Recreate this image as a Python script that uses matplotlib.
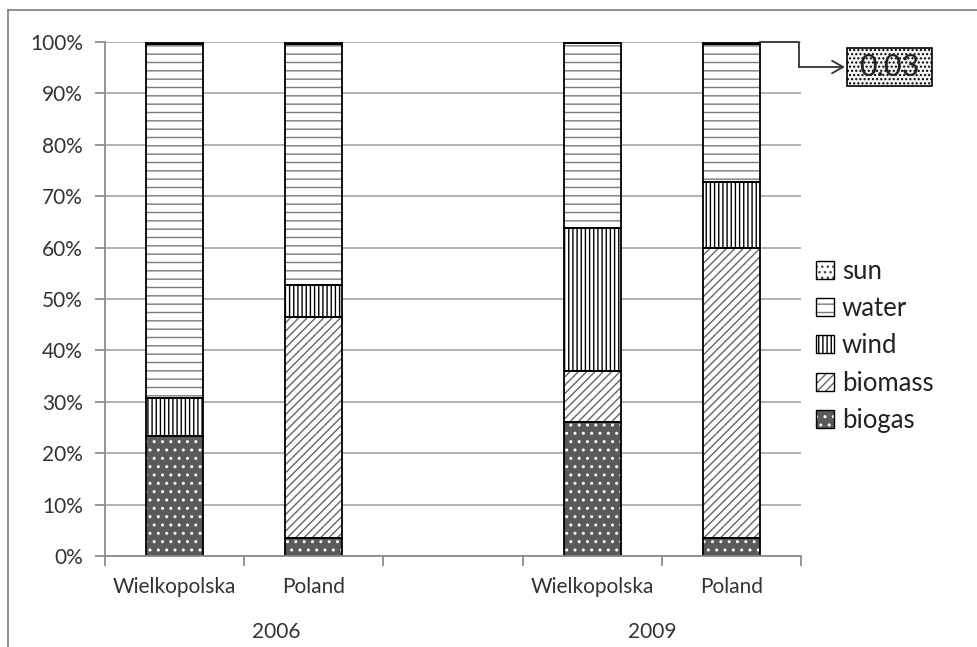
import numpy as np
import matplotlib
matplotlib.use("Agg")
import matplotlib.pyplot as plt
from matplotlib.patches import Patch, Rectangle
from matplotlib.lines import Line2D
from matplotlib.ticker import FuncFormatter, FixedLocator

plt.rcParams['font.family'] = ['Lato', 'DejaVu Sans']
plt.rcParams['hatch.linewidth'] = 1.0

# categories (slot 2 is the empty gap between the years)
categories = ["Wielkopolska", "Poland", "", "Wielkopolska", "Poland"]
years = ["2006", "2009"]

# shares in % (bottom to top)
biogas = [23.3, 3.5, 0, 26.1, 3.5]
biomass = [0.0, 43.0, 0, 9.9, 56.4]
wind = [7.4, 6.2, 0, 27.8, 12.9]
water = [69.0, 47.0, 0, 36.0, 26.8]
sun = [0.3, 0.3, 0, 0.2, 0.4]
sun_note = "0.03"

series = [("biogas", biogas), ("biomass", biomass), ("wind", wind),
          ("water", water), ("sun", sun)]
# face colour, hatch colour, hatch
styles = {
    "biogas": ("#5a5a5a", "white", ".."),
    "biomass": ("white", "#666666", "////"),
    "wind": ("white", "black", "||||"),
    "water": ("white", "#7a7a7a", "--"),
    "sun": ("white", "#444444", "..."),
}

fig = plt.figure(figsize=(9.77, 6.47), dpi=100)
ax = fig.add_axes([105 / 977, 1 - 556 / 647, 696 / 977, 514 / 647])

x = np.arange(len(categories))
mask = np.array([c != "" for c in categories])
width = 0.41
bottom = np.zeros(len(categories))
handles = {}
for name, vals in series:
    vals = np.array(vals, dtype=float)
    face, hcol, hatch = styles[name]
    ax.bar(x[mask], vals[mask], width, bottom=bottom[mask], color=face,
           edgecolor=hcol, hatch=hatch, linewidth=0, zorder=3)
    ax.bar(x[mask], vals[mask], width, bottom=bottom[mask], fill=False,
           edgecolor="black", linewidth=1.3, zorder=4)
    bottom = bottom + vals
    handles[name] = (Patch(facecolor=face, edgecolor=hcol, hatch=hatch, linewidth=0),
                     Patch(fill=False, edgecolor="black", linewidth=1.0))

ax.set_xlim(-0.5, len(categories) - 0.5)
ax.set_ylim(0, 100)
ax.yaxis.set_major_locator(FixedLocator(np.arange(0, 101, 10)))
ax.yaxis.set_major_formatter(FuncFormatter(lambda v, p: f"{v:.0f}%"))
ax.grid(axis="y", color="#a6a6a6", linewidth=1.2, zorder=0)
for s in ["top", "right"]:
    ax.spines[s].set_visible(False)
for s in ["left", "bottom"]:
    ax.spines[s].set_color("#8c8c8c")
    ax.spines[s].set_linewidth(1.3)
    ax.spines[s].set_zorder(5)

ax.set_xticks(x)
ax.set_xticklabels(categories)
ax.set_xticks(np.arange(-0.5, len(categories)), minor=True)
ax.tick_params(axis="x", which="major", length=0, pad=15, labelsize=15, labelcolor="#333333")
ax.tick_params(axis="x", which="minor", length=7, width=1.3, color="#8c8c8c")
ax.tick_params(axis="y", length=7, width=1.3, color="#8c8c8c", pad=9,
               labelsize=15, labelcolor="#333333")

# year labels below the categories
trans = ax.get_xaxis_transform()
for xpos, yr in zip([0.73, 3.43], years):
    ax.text(xpos, -0.148, yr, transform=trans, ha="center", va="center",
            fontsize=15, color="#333333")

leg = ax.legend([handles[n] for n in ["sun", "water", "wind", "biomass", "biogas"]],
                ["sun", "water", "wind", "biomass", "biogas"],
                loc="upper left", bbox_to_anchor=(806 / 977, 1 - 249 / 647),
                bbox_transform=fig.transFigure, frameon=False, fontsize=18.5,
                handlelength=0.7, handleheight=0.7, handletextpad=0.3,
                labelspacing=0.47, borderaxespad=0)
for t in leg.get_texts():
    t.set_color("#222222")

# callout for the tiny sun share in Poland 2009
fig.canvas.draw()
x0, y0 = ax.transData.transform((x[-1] + width / 2, 100))
elbow_x = x0 + 39
box_left, box_right = 847, 932
box_y = 647 - 67
fig.add_artist(Line2D([x0, elbow_x, elbow_x], [y0, y0, box_y], color="#333333",
                      linewidth=1.3, transform=None))
ax.annotate("", xy=(box_left - 2, box_y), xycoords="figure pixels",
            xytext=(elbow_x, box_y), textcoords="figure pixels",
            arrowprops=dict(arrowstyle="->,head_length=0.8,head_width=0.45",
                            color="#333333", linewidth=1.3, shrinkA=0, shrinkB=0))
fig.add_artist(Rectangle((box_left, box_y - 19), box_right - box_left, 38,
                         transform=None, facecolor="#f4f4f4", edgecolor="black",
                         hatch="....", linewidth=1.2))
fig.text((box_left + box_right) / 2 / 977, box_y / 647, sun_note,
         ha="center", va="center", fontsize=22, color="#222222")

# outer chart frame
fig.add_artist(Line2D([8 / 977, 8 / 977], [0, 1 - 10 / 647], color="#868686",
                      linewidth=1.3, transform=fig.transFigure))
fig.add_artist(Line2D([8 / 977, 1], [1 - 10 / 647, 1 - 10 / 647], color="#868686",
                      linewidth=1.3, transform=fig.transFigure))

fig.savefig("out.png", dpi=100, facecolor="white")
